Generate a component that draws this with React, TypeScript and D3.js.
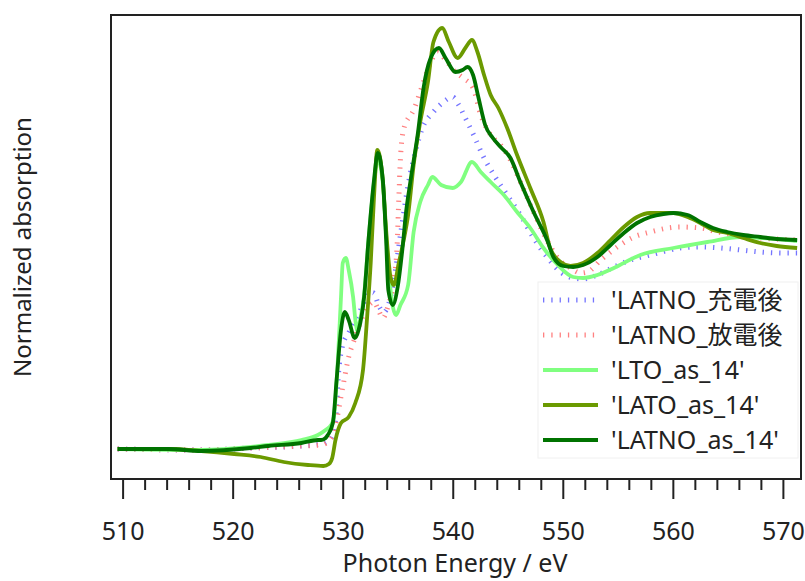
import React from 'react';
import * as d3 from 'd3';

// energies (eV) and normalized absorption
const latnoCharged: [number, number][] = [
  [509.5, 0], [517.1, -0.005], [521.6, 0.005], [526.2, 0.015], [528.0, 0.025], [528.9, 0.055],
  [529.3, 0.145], [529.6, 0.395], [529.96, 0.52], [530.5, 0.58], [531.1, 0.645], [531.8, 0.72],
  [532.3, 0.785], [532.8, 0.78], [533.2, 0.72], [533.7, 0.685], [534.1, 0.72], [534.6, 0.845],
  [535.2, 1.07], [535.9, 1.32], [536.6, 1.495], [537.2, 1.605], [538.2, 1.685], [539.0, 1.73],
  [539.95, 1.76], [540.5, 1.72], [541.1, 1.655], [541.85, 1.57], [542.8, 1.455], [543.7, 1.37],
  [544.9, 1.27], [546.1, 1.17], [547.3, 1.055], [548.6, 0.955], [549.75, 0.885], [550.9, 0.855],
  [551.8, 0.85], [553.1, 0.87], [554.6, 0.91], [556.1, 0.945], [557.9, 0.97], [559.7, 0.995],
  [560.6, 1.005], [562.45, 1.01], [564.3, 1.005], [566.1, 0.995], [567.9, 0.985], [570.3, 0.98],
  [571.25, 0.98],
];

const latnoDischarged: [number, number][] = [
  [509.5, 0], [517.1, -0.005], [521.6, 0.005], [526.2, 0.015], [528.0, 0.02], [528.9, 0.055],
  [529.3, 0.12], [529.96, 0.31], [530.5, 0.46], [531.1, 0.56], [532.05, 0.695], [532.8, 0.735],
  [533.2, 0.695], [533.6, 0.655], [534.1, 0.72], [534.6, 0.845], [534.9, 1.02], [535.05, 1.245],
  [535.2, 1.45], [535.5, 1.6], [536.4, 1.695], [537.3, 1.835], [537.95, 1.935], [538.6, 1.985],
  [539.3, 1.945], [540.2, 1.885], [540.9, 1.855], [541.8, 1.805], [542.5, 1.67], [543.4, 1.57],
  [544.3, 1.52], [545.2, 1.445], [546.1, 1.335], [547.3, 1.185], [548.6, 1.035], [549.5, 0.955],
  [550.65, 0.905], [551.6, 0.88], [552.2, 0.885], [553.4, 0.945], [554.9, 1.01], [556.4, 1.06],
  [557.9, 1.085], [559.5, 1.105], [560.6, 1.11], [562.45, 1.105], [564.0, 1.085], [566.1, 1.065],
  [567.9, 1.055], [571.25, 1.045],
];

const ltoAs14: [number, number][] = [
  [509.5, 0], [517.1, -0.005], [521.6, 0.01], [523.2, 0.02], [526.2, 0.045], [527.7, 0.07],
  [528.4, 0.095], [528.9, 0.12], [529.15, 0.16], [529.5, 0.43], [529.8, 0.76], [529.96, 0.93],
  [530.24, 0.955], [530.5, 0.895], [530.9, 0.76], [531.14, 0.63], [531.3, 0.59], [531.5, 0.635],
  [531.9, 0.77], [532.3, 1.045], [532.8, 1.33], [533.14, 1.45], [533.6, 1.33], [533.9, 1.07],
  [534.3, 0.795], [534.8, 0.67], [535.2, 0.72], [535.9, 0.82], [536.4, 1.085], [537.0, 1.235],
  [537.7, 1.32], [538.1, 1.36], [538.9, 1.32], [539.95, 1.305], [540.7, 1.335], [541.7, 1.435],
  [542.5, 1.385], [543.4, 1.335], [544.6, 1.27], [545.8, 1.185], [547.0, 1.105], [548.2, 1.005],
  [549.5, 0.92], [550.9, 0.86], [551.8, 0.855], [553.1, 0.87], [554.6, 0.905], [557.0, 0.97],
  [560.0, 1.005], [563.1, 1.035], [566.1, 1.06], [567.9, 1.055], [569.4, 1.05], [571.25, 1.04],
];

const latoAs14: [number, number][] = [
  [509.5, 0], [514.1, 0], [517.1, -0.01], [520.1, -0.025], [522.5, -0.04], [524.6, -0.065],
  [526.8, -0.08], [528.2, -0.085], [528.7, -0.075], [529.0, -0.045], [529.3, 0.045], [529.8, 0.13],
  [530.5, 0.16], [531.1, 0.23], [531.8, 0.395], [532.2, 0.68], [532.5, 0.93], [532.8, 1.26],
  [533.1, 1.495], [533.6, 1.345], [533.9, 1.095], [534.3, 0.86], [534.6, 0.82], [535.05, 0.93],
  [535.5, 1.045], [535.9, 1.17], [536.4, 1.42], [537.0, 1.635], [537.7, 1.835], [538.2, 2.035],
  [539.0, 2.105], [539.6, 2.035], [540.4, 1.955], [541.1, 2.005], [541.7, 2.045], [542.2, 1.985],
  [542.8, 1.87], [543.4, 1.77], [544.1, 1.705], [544.9, 1.605], [545.8, 1.47], [547.0, 1.305],
  [548.2, 1.135], [548.8, 1.005], [549.75, 0.935], [550.65, 0.915], [551.8, 0.93], [553.1, 0.98],
  [554.3, 1.045], [555.5, 1.11], [556.7, 1.16], [557.9, 1.18], [560.0, 1.18], [561.3, 1.16],
  [562.45, 1.13], [563.6, 1.095], [564.9, 1.08], [566.35, 1.055], [567.9, 1.03], [569.4, 1.015],
  [571.25, 1.005],
];

const latnoAs14: [number, number][] = [
  [509.5, 0], [514.1, 0], [517.1, -0.01], [521.6, 0.005], [523.2, 0.015], [526.2, 0.03],
  [527.7, 0.045], [528.0, 0.045], [528.4, 0.055], [528.6, 0.07], [529.06, 0.13], [529.4, 0.345],
  [529.8, 0.595], [530.15, 0.685], [530.5, 0.645], [531.05, 0.555], [531.4, 0.595], [531.9, 0.76],
  [532.3, 1.045], [532.8, 1.345], [533.14, 1.48], [533.6, 1.345], [533.9, 1.045], [534.1, 0.795],
  [534.5, 0.72], [534.95, 0.81], [535.4, 1.01], [535.7, 1.18], [536.1, 1.335], [536.8, 1.585],
  [537.3, 1.805], [537.95, 1.955], [538.7, 2.005], [539.3, 1.955], [540.2, 1.885], [540.85, 1.895],
  [541.3, 1.91], [541.8, 1.87], [542.3, 1.755], [542.9, 1.62], [543.6, 1.555], [544.3, 1.51],
  [545.2, 1.455], [546.1, 1.335], [547.3, 1.185], [548.6, 1.035], [549.1, 0.96], [550.0, 0.915],
  [550.9, 0.91], [551.8, 0.92], [553.1, 0.96], [554.3, 1.02], [555.5, 1.08], [556.7, 1.13],
  [557.9, 1.16], [559.1, 1.175], [560.0, 1.18], [561.3, 1.17], [562.45, 1.135], [563.6, 1.105],
  [564.9, 1.085], [566.35, 1.07], [567.9, 1.06], [569.4, 1.05], [571.25, 1.045],
];

const seriesNames = ["'LATNO_充電後", "'LATNO_放電後", "'LTO_as_14'", "'LATO_as_14'", "'LATNO_as_14'"];
const seriesColors = ['#7474ff', '#ff8080', '#80ff80', '#6b9a00', '#007300'];
const seriesDotted = [true, true, false, false, false];
const seriesData = [latnoCharged, latnoDischarged, ltoAs14, latoAs14, latnoAs14];

const xTicks = [510, 520, 530, 540, 550, 560, 570];
const xMinorTicks = d3.range(510, 572, 2);

const xTitle = 'Photon Energy / eV';
const yTitle = 'Normalized absorption';

const W = 805;
const H = 581;
const margin = { top: 15, right: 4, bottom: 102, left: 111 };
const font = "'Noto Sans', 'Noto Sans CJK JP', sans-serif";

export default function App() {
  const x0 = margin.left;
  const x1 = W - margin.right;
  const y0 = margin.top;
  const y1 = H - margin.bottom;

  const x = d3.scaleLinear().domain([508.9, 571.6]).range([x0, x1]);
  const y = d3.scaleLinear().domain([-0.15, 2.17]).range([y1, y0]);

  const line = d3
    .line<[number, number]>()
    .x((d) => x(d[0]))
    .y((d) => y(d[1]))
    .curve(d3.curveMonotoneX);

  const legendX = 538;
  const legendY = 282;

  return (
    <svg width={W} height={H} style={{ position: 'absolute', left: 0, top: 0, background: '#fff' }} fontFamily={font}>
      <defs>
        <clipPath id="plot">
          <rect x={x0} y={y0} width={x1 - x0} height={y1 - y0} />
        </clipPath>
      </defs>

      <g clipPath="url(#plot)" fill="none">
        {seriesData.map((d, i) => (
          <path
            key={i}
            d={line(d) || ''}
            stroke={seriesColors[i]}
            strokeWidth={seriesDotted[i] ? 5 : 3.8}
            strokeDasharray={seriesDotted[i] ? '1.3 7' : undefined}
            strokeLinejoin="round"
            strokeLinecap="butt"
          />
        ))}
      </g>

      {/* legend */}
      <rect x={legendX} y={legendY} width={x1 - legendX - 3} height={176} fill="#fff" stroke="#f0f0f0" />
      {seriesNames.map((name, i) => {
        const cy = 300 + i * 35;
        return (
          <g key={name}>
            <line
              x1={543}
              x2={598}
              y1={cy}
              y2={cy}
              stroke={seriesColors[i]}
              strokeWidth={seriesDotted[i] ? 5 : 3.8}
              strokeDasharray={seriesDotted[i] ? '1.3 7' : undefined}
            />
            <text x={611} y={cy + 9} fontSize={25} fill="#222">
              {name}
            </text>
          </g>
        );
      })}

      {/* frame */}
      <rect x={x0} y={y0} width={x1 - x0} height={y1 - y0} fill="none" stroke="#222" strokeWidth={2} />

      {/* bottom ticks */}
      {xMinorTicks.map((t) => (
        <line key={'m' + t} x1={x(t)} x2={x(t)} y1={y1} y2={y1 + (t % 10 === 0 ? 20 : 11)} stroke="#222" strokeWidth={2} />
      ))}
      {xTicks.map((t) => (
        <text key={t} x={x(t)} y={540} fontSize={25} textAnchor="middle" fill="#222">
          {t}
        </text>
      ))}

      <text x={(x0 + x1) / 2 - 1} y={572} fontSize={25} textAnchor="middle" fill="#222">
        {xTitle}
      </text>
      <text
        transform={`translate(31, ${(y0 + y1) / 2}) rotate(-90)`}
        fontSize={24}
        textAnchor="middle"
        fill="#222"
      >
        {yTitle}
      </text>
    </svg>
  );
}
